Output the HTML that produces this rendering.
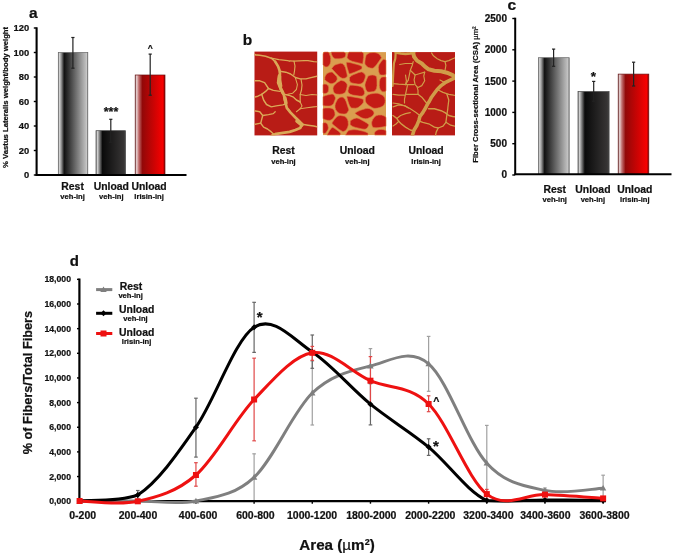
<!DOCTYPE html>
<html><head><meta charset="utf-8"><style>
html,body{margin:0;padding:0;background:#fff;width:675px;height:554px;overflow:hidden}
svg{display:block;will-change:transform}
text{font-family:"Liberation Sans", sans-serif;stroke:#111;stroke-width:0.22px}
</style></head><body>
<svg width="675" height="554" viewBox="0 0 675 554">
<rect width="675" height="554" fill="#fff"/>
<defs>
<filter id="hblur" x="-2%" y="-2%" width="104%" height="104%"><feGaussianBlur stdDeviation="0.45"/></filter>
<linearGradient id="gGray" x1="0" x2="1" y1="0" y2="0">
 <stop offset="0" stop-color="#8a8a8a"/><stop offset="0.04" stop-color="#cfcfcf"/><stop offset="0.09" stop-color="#a0a0a0"/>
 <stop offset="0.2" stop-color="#111"/><stop offset="0.93" stop-color="#bdbdbd"/><stop offset="0.96" stop-color="#c8c8c8"/><stop offset="1" stop-color="#7a7a7a"/>
</linearGradient>
<linearGradient id="gBlack" x1="0" x2="1" y1="0" y2="0">
 <stop offset="0" stop-color="#8a8a8a"/><stop offset="0.05" stop-color="#d0d0d0"/><stop offset="0.11" stop-color="#888"/>
 <stop offset="0.22" stop-color="#0a0a0a"/><stop offset="0.93" stop-color="#363434"/><stop offset="1" stop-color="#444"/>
</linearGradient>
<linearGradient id="gRed" x1="0" x2="1" y1="0" y2="0">
 <stop offset="0" stop-color="#8a8a8a"/><stop offset="0.05" stop-color="#ecd0d0"/><stop offset="0.12" stop-color="#c07070"/>
 <stop offset="0.24" stop-color="#920808"/><stop offset="0.93" stop-color="#f80000"/><stop offset="1" stop-color="#800000"/>
</linearGradient>
</defs>
<text x="29.00" y="17.80" font-size="15.5" text-anchor="start" font-weight="bold" fill="#111" >a</text>
<rect x="58.30" y="52.50" width="29.50" height="122.50" fill="url(#gGray)" stroke="#666" stroke-width="0.7"/>
<rect x="96.00" y="130.70" width="29.50" height="44.30" fill="url(#gBlack)" stroke="#444" stroke-width="0.7"/>
<rect x="135.20" y="75.00" width="29.80" height="100.00" fill="url(#gRed)" stroke="#6a1010" stroke-width="0.7"/>
<line x1="72.90" y1="37.50" x2="72.90" y2="68.20" stroke="#222" stroke-width="1.2" />
<line x1="71.30" y1="37.50" x2="74.50" y2="37.50" stroke="#222" stroke-width="1.2" />
<line x1="71.30" y1="68.20" x2="74.50" y2="68.20" stroke="#222" stroke-width="1.2" />
<line x1="110.80" y1="119.30" x2="110.80" y2="142.30" stroke="#222" stroke-width="1.2" />
<line x1="109.20" y1="119.30" x2="112.40" y2="119.30" stroke="#222" stroke-width="1.2" />
<line x1="109.20" y1="142.30" x2="112.40" y2="142.30" stroke="#222" stroke-width="1.2" />
<line x1="150.20" y1="54.10" x2="150.20" y2="95.20" stroke="#222" stroke-width="1.2" />
<line x1="148.60" y1="54.10" x2="151.80" y2="54.10" stroke="#222" stroke-width="1.2" />
<line x1="148.60" y1="95.20" x2="151.80" y2="95.20" stroke="#222" stroke-width="1.2" />
<line x1="36.60" y1="27.30" x2="36.60" y2="176.00" stroke="#000" stroke-width="2.1" />
<line x1="35.60" y1="175.10" x2="186.50" y2="175.10" stroke="#000" stroke-width="2" />
<line x1="33.80" y1="175.00" x2="36.60" y2="175.00" stroke="#000" stroke-width="1.4" />
<text x="29.20" y="178.30" font-size="9.4" text-anchor="end" font-weight="bold" fill="#111" >0</text>
<line x1="33.80" y1="150.50" x2="36.60" y2="150.50" stroke="#000" stroke-width="1.4" />
<text x="29.20" y="153.80" font-size="9.4" text-anchor="end" font-weight="bold" fill="#111" >20</text>
<line x1="33.80" y1="126.00" x2="36.60" y2="126.00" stroke="#000" stroke-width="1.4" />
<text x="29.20" y="129.30" font-size="9.4" text-anchor="end" font-weight="bold" fill="#111" >40</text>
<line x1="33.80" y1="101.50" x2="36.60" y2="101.50" stroke="#000" stroke-width="1.4" />
<text x="29.20" y="104.80" font-size="9.4" text-anchor="end" font-weight="bold" fill="#111" >60</text>
<line x1="33.80" y1="77.00" x2="36.60" y2="77.00" stroke="#000" stroke-width="1.4" />
<text x="29.20" y="80.30" font-size="9.4" text-anchor="end" font-weight="bold" fill="#111" >80</text>
<line x1="33.80" y1="52.50" x2="36.60" y2="52.50" stroke="#000" stroke-width="1.4" />
<text x="29.20" y="55.80" font-size="9.4" text-anchor="end" font-weight="bold" fill="#111" >100</text>
<line x1="33.80" y1="28.00" x2="36.60" y2="28.00" stroke="#000" stroke-width="1.4" />
<text x="29.20" y="31.30" font-size="9.4" text-anchor="end" font-weight="bold" fill="#111" >120</text>
<text x="111.05" y="116.40" font-size="12.5" text-anchor="middle" font-weight="bold" fill="#111" >***</text>
<text x="150.35" y="51.10" font-size="8.6" text-anchor="middle" font-weight="bold" fill="#111" >^</text>
<text x="8.30" y="97.40" font-size="7.5" text-anchor="middle" font-weight="bold" fill="#111" textLength="141.00" lengthAdjust="spacingAndGlyphs" transform="rotate(-90 8.30 97.40)" >% Vastus Lateralis weight/body weight</text>
<text x="72.60" y="190.10" font-size="10.4" text-anchor="middle" font-weight="bold" fill="#111" >Rest</text>
<text x="72.60" y="198.60" font-size="8.1" text-anchor="middle" font-weight="bold" fill="#111" textLength="24.49" lengthAdjust="spacingAndGlyphs" >veh-inj</text>
<text x="111.30" y="190.10" font-size="10.4" text-anchor="middle" font-weight="bold" fill="#111" >Unload</text>
<text x="111.30" y="198.60" font-size="8.1" text-anchor="middle" font-weight="bold" fill="#111" textLength="24.49" lengthAdjust="spacingAndGlyphs" >veh-inj</text>
<text x="149.10" y="190.10" font-size="10.4" text-anchor="middle" font-weight="bold" fill="#111" >Unload</text>
<text x="149.10" y="198.60" font-size="8.1" text-anchor="middle" font-weight="bold" fill="#111" textLength="29.56" lengthAdjust="spacingAndGlyphs" >Irisin-inj</text>
<text x="507.60" y="9.50" font-size="15.5" text-anchor="start" font-weight="bold" fill="#111" >c</text>
<rect x="538.40" y="57.70" width="30.80" height="116.80" fill="url(#gGray)" stroke="#666" stroke-width="0.7"/>
<rect x="578.00" y="91.60" width="31.10" height="82.90" fill="url(#gBlack)" stroke="#444" stroke-width="0.7"/>
<rect x="618.20" y="74.10" width="30.60" height="100.40" fill="url(#gRed)" stroke="#6a1010" stroke-width="0.7"/>
<line x1="553.60" y1="49.10" x2="553.60" y2="66.30" stroke="#222" stroke-width="1.2" />
<line x1="552.00" y1="49.10" x2="555.20" y2="49.10" stroke="#222" stroke-width="1.2" />
<line x1="552.00" y1="66.30" x2="555.20" y2="66.30" stroke="#222" stroke-width="1.2" />
<line x1="593.70" y1="81.40" x2="593.70" y2="101.20" stroke="#222" stroke-width="1.2" />
<line x1="592.10" y1="81.40" x2="595.30" y2="81.40" stroke="#222" stroke-width="1.2" />
<line x1="592.10" y1="101.20" x2="595.30" y2="101.20" stroke="#222" stroke-width="1.2" />
<line x1="633.60" y1="62.20" x2="633.60" y2="86.00" stroke="#222" stroke-width="1.2" />
<line x1="632.00" y1="62.20" x2="635.20" y2="62.20" stroke="#222" stroke-width="1.2" />
<line x1="632.00" y1="86.00" x2="635.20" y2="86.00" stroke="#222" stroke-width="1.2" />
<line x1="515.20" y1="17.70" x2="515.20" y2="175.00" stroke="#000" stroke-width="2" />
<line x1="514.50" y1="174.30" x2="671.50" y2="174.30" stroke="#000" stroke-width="2" />
<line x1="512.30" y1="175.00" x2="515.20" y2="175.00" stroke="#000" stroke-width="1.4" />
<text x="507.00" y="178.40" font-size="10" text-anchor="end" font-weight="bold" fill="#111" >0</text>
<line x1="512.30" y1="143.70" x2="515.20" y2="143.70" stroke="#000" stroke-width="1.4" />
<text x="507.00" y="147.10" font-size="10" text-anchor="end" font-weight="bold" fill="#111" >500</text>
<line x1="512.30" y1="112.40" x2="515.20" y2="112.40" stroke="#000" stroke-width="1.4" />
<text x="507.00" y="115.80" font-size="10" text-anchor="end" font-weight="bold" fill="#111" >1000</text>
<line x1="512.30" y1="81.10" x2="515.20" y2="81.10" stroke="#000" stroke-width="1.4" />
<text x="507.00" y="84.50" font-size="10" text-anchor="end" font-weight="bold" fill="#111" >1500</text>
<line x1="512.30" y1="49.80" x2="515.20" y2="49.80" stroke="#000" stroke-width="1.4" />
<text x="507.00" y="53.20" font-size="10" text-anchor="end" font-weight="bold" fill="#111" >2000</text>
<line x1="512.30" y1="18.50" x2="515.20" y2="18.50" stroke="#000" stroke-width="1.4" />
<text x="507.00" y="21.90" font-size="10" text-anchor="end" font-weight="bold" fill="#111" >2500</text>
<text x="593.50" y="81.20" font-size="13.5" text-anchor="middle" font-weight="bold" fill="#111" >*</text>
<text x="478.40" y="94.60" font-size="7.6" text-anchor="middle" font-weight="bold" fill="#111" textLength="136.40" lengthAdjust="spacingAndGlyphs" transform="rotate(-90 478.40 94.60)" >Fiber Cross-sectional Area (CSA) <tspan font-weight="normal">µm²</tspan></text>
<text x="554.70" y="192.60" font-size="10.4" text-anchor="middle" font-weight="bold" fill="#111" >Rest</text>
<text x="554.70" y="201.60" font-size="8.1" text-anchor="middle" font-weight="bold" fill="#111" textLength="24.49" lengthAdjust="spacingAndGlyphs" >veh-inj</text>
<text x="592.90" y="192.60" font-size="10.4" text-anchor="middle" font-weight="bold" fill="#111" >Unload</text>
<text x="592.90" y="201.60" font-size="8.1" text-anchor="middle" font-weight="bold" fill="#111" textLength="24.49" lengthAdjust="spacingAndGlyphs" >veh-inj</text>
<text x="634.80" y="192.60" font-size="10.4" text-anchor="middle" font-weight="bold" fill="#111" >Unload</text>
<text x="634.80" y="201.60" font-size="8.1" text-anchor="middle" font-weight="bold" fill="#111" textLength="29.56" lengthAdjust="spacingAndGlyphs" >Irisin-inj</text>
<text x="242.80" y="44.90" font-size="15.5" text-anchor="start" font-weight="bold" fill="#111" >b</text>
<text x="283.50" y="154.30" font-size="10.4" text-anchor="middle" font-weight="bold" fill="#111" >Rest</text>
<text x="283.50" y="163.60" font-size="8.1" text-anchor="middle" font-weight="bold" fill="#111" textLength="24.49" lengthAdjust="spacingAndGlyphs" >veh-inj</text>
<text x="357.30" y="154.30" font-size="10.4" text-anchor="middle" font-weight="bold" fill="#111" >Unload</text>
<text x="357.30" y="163.60" font-size="8.1" text-anchor="middle" font-weight="bold" fill="#111" textLength="24.49" lengthAdjust="spacingAndGlyphs" >veh-inj</text>
<text x="426.10" y="154.30" font-size="10.4" text-anchor="middle" font-weight="bold" fill="#111" >Unload</text>
<text x="426.10" y="163.60" font-size="8.1" text-anchor="middle" font-weight="bold" fill="#111" textLength="29.56" lengthAdjust="spacingAndGlyphs" >Irisin-inj</text>
<g filter="url(#hblur)">
<rect x="254.5" y="51.6" width="62.7" height="83.8" fill="#b81a12"/>
<clipPath id="c1"><rect x="254.5" y="51.6" width="62.7" height="83.8"/></clipPath>
<g clip-path="url(#c1)" fill="none" stroke="#daa858" stroke-linecap="round" stroke-linejoin="round">
<polyline points="254.0,54.5 255.9,54.9 259.8,55.3 265.6,56.3 271.3,58.2 275.2,61.6" stroke-width="1.6"/>
<polyline points="275.2,61.6 278.1,66.4 279.5,70.3 280.0,74.1 278.6,78.9 278.1,82.7 280.0,87.5 282.0,91.4 283.9,95.2 284.8,100.0 285.8,103.9 286.8,107.8 290.6,112.6 295.4,117.5 299.3,121.3 302.2,124.2 300.2,128.0 295.4,130.0 289.6,131.9 282.9,132.9 276.2,133.8 271.3,136.0" stroke-width="2.7"/>
<polyline points="279.5,76.0 279.5,80.0 280.5,86.0" stroke-width="3.8"/>
<polyline points="280.5,88.0 283.0,93.0" stroke-width="3.2"/>
<polyline points="285.0,98.0 286.0,103.0" stroke-width="3.4"/>
<polyline points="297.0,121.0 302.0,125.0" stroke-width="3.6"/>
<polyline points="271.3,58.2 279.0,59.7 287.7,60.6 289.6,61.1" stroke-width="1.32"/>
<polyline points="280.0,71.2 285.8,72.2 290.6,74.0 295.4,77.5 300.2,78.9 306.0,78.9 309.9,77.9 318.0,76.0" stroke-width="1.44"/>
<polyline points="304.0,60.6 308.0,60.6 313.7,61.6 318.0,62.0" stroke-width="1.2"/>
<polyline points="254.0,80.8 259.8,80.8 264.6,82.7 268.5,88.5 273.3,90.4 280.0,91.4" stroke-width="1.44"/>
<polyline points="268.5,88.5 265.6,91.4 261.7,94.3 257.9,96.2 254.0,97.2" stroke-width="1.44"/>
<polyline points="261.7,94.3 263.6,100.0 266.5,104.5 271.3,106.9 276.2,105.9 282.9,104.9 285.3,104.0" stroke-width="1.44"/>
<polyline points="283.9,94.3 288.7,95.2 293.5,97.2 296.4,100.0 300.2,102.0" stroke-width="1.44"/>
<polyline points="295.4,77.9 297.4,84.6 296.4,89.5 292.5,93.3 287.7,94.3" stroke-width="1.08"/>
<polyline points="302.2,124.2 308.0,125.2 313.7,126.1 318.0,127.1" stroke-width="1.56"/>
<polyline points="296.4,111.7 300.2,108.8 307.0,107.8 313.7,106.9 318.0,106.5" stroke-width="1.08"/>
<polyline points="254.0,110.7 259.8,111.7 262.7,115.5 261.7,119.4 260.7,123.2 263.6,127.1 267.5,129.0 271.3,131.9 274.2,134.8" stroke-width="1.44"/>
<polyline points="262.7,115.5 268.5,114.6 273.3,113.6 275.2,111.7" stroke-width="1.32"/>
<polyline points="254.0,124.5 260.7,123.2" stroke-width="1.32"/>
<polyline points="300.2,102.0 302.0,106.0 300.0,109.0" stroke-width="1.08"/>
<polyline points="290.0,60.8 294.0,61.2 304.0,60.6" stroke-width="1.3"/>
<polyline points="294.0,61.2 295.0,66.0 294.5,71.0 293.8,75.0" stroke-width="1.2"/>
<polyline points="301.0,79.0 302.0,85.0 301.5,90.0 300.2,94.5 300.2,102.0" stroke-width="1.2"/>
<polyline points="300.2,94.5 306.0,95.5 312.0,94.5 318.0,95.0" stroke-width="1.2"/>
</g>
<rect x="323.0" y="52.1" width="63.0" height="83.0" fill="#da9e4f"/>
<polygon points="328.2,52.1 324.2,52.1 323.0,53.8 323.0,64.6 324.3,66.2 325.2,66.8 326.1,67.0 327.6,66.7 328.9,65.8 330.1,63.8 330.6,61.6 330.7,58.2 330.3,56.2 329.2,53.3" fill="#c41e16" stroke="#dd7a44" stroke-width="0.6"/>
<polygon points="335.4,58.7 339.0,58.8 341.2,58.5 342.9,58.1 344.4,57.4 344.8,57.1 345.4,56.2 345.7,54.9 345.7,53.4 345.0,52.7 344.0,52.1 331.2,52.1 331.3,53.1 331.6,54.4 332.3,56.1 333.2,57.4 334.2,58.2" fill="#c41e16" stroke="#dd7a44" stroke-width="0.6"/>
<polygon points="352.6,61.4 362.7,63.9 363.6,57.4 363.6,53.9 363.3,53.0 361.8,52.1 349.2,52.1 348.8,52.3 348.3,53.0 347.8,54.0 347.1,57.2 347.9,58.8 349.7,60.2" fill="#c41e16" stroke="#dd7a44" stroke-width="0.6"/>
<polygon points="365.3,64.6 366.9,66.4 368.5,67.5 370.6,68.1 372.4,68.3 373.6,67.7 375.0,66.5 376.7,64.5 381.5,57.7 380.1,55.2 378.4,53.7 377.4,53.2 375.7,52.7 374.0,52.5 370.7,52.7 369.1,53.1 366.9,54.4 366.4,54.9 366.0,55.7 365.3,58.5 364.9,62.0 364.9,63.3" fill="#c41e16" stroke="#dd7a44" stroke-width="0.6"/>
<polygon points="378.4,67.4 378.7,71.8 379.7,74.5 381.2,75.0 382.4,75.1 384.0,75.1 386.0,74.5 386.0,60.5 385.4,59.8 383.7,59.2 383.0,59.5 381.3,61.4 379.2,64.5 378.7,65.9" fill="#c41e16" stroke="#dd7a44" stroke-width="0.6"/>
<polygon points="331.7,68.5 337.2,74.6 339.2,76.4 340.8,77.6 342.2,78.3 344.2,78.3 345.7,77.8 347.2,76.4 347.2,75.1 346.8,73.3 345.4,67.5 344.1,65.2 342.6,63.8 340.6,63.3 336.4,64.4 334.9,65.1 333.7,65.9" fill="#c41e16" stroke="#dd7a44" stroke-width="0.6"/>
<polygon points="349.7,73.9 354.6,72.2 359.7,70.0 361.2,69.2 361.9,68.6 362.0,66.4 359.2,65.1 356.4,64.3 349.9,62.6 346.8,62.2 346.5,62.4 346.4,63.3 347.0,66.9 348.4,71.6 348.9,73.1 349.4,73.8" fill="#c41e16" stroke="#dd7a44" stroke-width="0.6"/>
<polygon points="363.6,81.7 365.1,78.0 365.3,76.6 365.3,75.6 364.7,74.3 363.9,73.3 363.0,72.6 361.6,71.9 358.9,72.5 353.8,74.5 351.7,75.6 350.3,76.7 349.5,77.6 349.5,80.2 350.4,82.2 351.3,82.7 352.9,83.2 358.0,84.1 360.4,83.9 362.3,83.1" fill="#c41e16" stroke="#dd7a44" stroke-width="0.6"/>
<polygon points="336.2,81.2 337.1,79.6 337.2,78.0 336.4,76.3 332.2,72.0 329.7,72.3 327.7,73.2 326.5,74.2 325.3,76.0 324.9,77.2 324.8,79.6 326.1,81.0 329.2,83.1 330.9,83.7 332.6,83.5 334.4,82.7" fill="#c41e16" stroke="#dd7a44" stroke-width="0.6"/>
<polygon points="365.0,85.9 365.9,89.6 366.9,91.1 367.7,91.9 369.9,92.1 373.8,91.5 375.4,90.4 376.5,88.4 377.0,85.7 376.9,79.4 376.5,76.4 374.3,75.3 372.4,75.0 370.5,75.2 368.1,76.1 366.7,79.3 365.3,83.0 365.0,84.6" fill="#c41e16" stroke="#dd7a44" stroke-width="0.6"/>
<polygon points="336.7,94.1 339.5,94.3 342.3,93.9 344.2,93.1 344.9,92.7 345.4,91.9 346.4,89.5 347.1,86.4 347.2,84.7 346.3,83.1 344.6,81.6 343.5,81.0 341.4,80.4 340.3,80.7 337.4,82.5 335.5,84.1 334.2,85.6 333.3,87.1 333.0,88.6 333.4,91.1 334.1,92.7 335.6,93.8" fill="#c41e16" stroke="#dd7a44" stroke-width="0.6"/>
<polygon points="352.8,95.1 359.5,96.0 361.6,96.1 362.9,95.8 364.1,94.3 364.6,93.2 364.4,91.4 363.4,88.8 362.2,87.6 360.5,86.6 358.1,85.9 353.0,85.2 350.2,85.2 349.8,85.4 348.9,87.3 347.9,91.0 348.5,92.8 350.1,94.1" fill="#c41e16" stroke="#dd7a44" stroke-width="0.6"/>
<polygon points="328.4,86.6 327.7,85.3 326.4,84.3 324.8,84.1 323.0,84.5 323.0,93.0 324.0,93.4 325.4,93.4 326.7,93.1 327.5,92.4 328.3,91.2 328.6,89.9 328.7,87.7" fill="#c41e16" stroke="#dd7a44" stroke-width="0.6"/>
<polygon points="380.9,77.9 379.9,79.6 379.4,81.8 379.3,85.3 379.6,87.7 380.2,89.3 381.6,91.2 382.7,91.8 384.3,91.8 385.2,91.4 386.0,90.8 386.0,77.4 385.6,76.9 383.1,76.9 381.7,77.2" fill="#c41e16" stroke="#dd7a44" stroke-width="0.6"/>
<polygon points="325.5,95.6 323.0,96.6 323.0,105.5 325.0,105.9 329.1,106.1 330.9,105.7 332.5,104.8 333.6,103.4 335.3,99.1 335.4,98.3 335.3,97.5 334.5,95.7 333.1,94.3 332.0,94.1 328.2,94.8" fill="#c41e16" stroke="#dd7a44" stroke-width="0.6"/>
<polygon points="340.8,113.8 344.1,114.1 346.1,113.7 347.5,112.3 348.9,110.1 346.2,101.7 345.0,99.3 343.7,97.8 342.2,97.1 340.5,97.3 339.0,98.0 337.7,99.3 336.6,101.1 335.5,103.5 335.0,105.6 335.1,107.6 335.6,109.4 336.6,111.0 337.8,112.3 339.2,113.2" fill="#c41e16" stroke="#dd7a44" stroke-width="0.6"/>
<polygon points="351.6,108.1 355.5,108.2 357.6,107.7 358.7,107.1 361.3,105.0 363.0,103.0 363.4,102.1 363.4,100.1 363.1,99.2 360.0,98.2 350.5,96.6 347.5,96.2 346.8,96.7 347.9,101.0 348.8,103.8 349.7,105.9 350.7,107.3" fill="#c41e16" stroke="#dd7a44" stroke-width="0.6"/>
<polygon points="365.4,101.1 365.9,102.3 366.8,103.6 368.1,104.9 369.9,106.2 372.9,107.9 374.1,108.3 375.3,108.3 377.5,108.1 379.7,107.5 381.5,106.8 382.7,106.1 384.0,104.9 384.6,103.6 385.0,102.4 385.2,100.4 384.8,98.5 384.3,97.3 383.5,96.2 382.3,95.2 380.8,94.4 379.0,93.7 377.3,93.3 375.4,93.2 373.0,93.5 370.3,94.0 368.3,94.8 367.6,95.3 366.5,96.3 365.8,97.3 365.4,98.8" fill="#c41e16" stroke="#dd7a44" stroke-width="0.6"/>
<polygon points="333.4,117.9 334.8,115.5 335.0,114.4 334.8,112.4 334.1,110.4 333.4,109.4 332.4,108.7 331.0,108.2 329.1,107.9 325.0,108.0 323.0,108.6 323.0,118.7 325.3,119.7 327.4,120.3 329.3,120.4 330.9,120.0 332.2,119.2" fill="#c41e16" stroke="#dd7a44" stroke-width="0.6"/>
<polygon points="371.1,109.4 369.5,108.7 367.7,108.4 365.8,108.6 360.6,110.2 358.3,111.2 355.1,112.9 355.3,113.6 356.3,114.6 360.7,117.3 363.1,118.3 365.4,118.7 367.5,118.5 371.0,117.0 372.3,116.1 373.2,115.1 373.9,113.9 374.0,112.8 373.6,111.7 372.6,110.6" fill="#c41e16" stroke="#dd7a44" stroke-width="0.6"/>
<polygon points="338.8,129.2 342.5,131.4 343.5,131.6 345.7,130.4 347.4,127.9 348.1,125.8 348.3,124.6 348.1,121.2 347.5,119.5 346.7,118.1 344.6,116.2 340.3,115.5 338.8,115.8 337.2,116.6 335.7,117.9 334.2,119.7 332.4,122.3 332.1,123.2 332.3,123.7 333.0,124.6" fill="#c41e16" stroke="#dd7a44" stroke-width="0.6"/>
<polygon points="355.5,127.4 362.0,128.9 364.1,129.2 365.5,129.1 366.8,128.3 367.7,127.2 368.6,125.5 368.6,124.6 366.6,122.9 364.6,121.7 359.7,119.0 357.9,118.3 356.6,118.1 354.8,118.4 353.1,119.1 350.7,120.6 350.3,121.4 350.1,124.3 351.0,125.4 352.8,126.5" fill="#c41e16" stroke="#dd7a44" stroke-width="0.6"/>
<polygon points="371.7,124.0 372.1,125.7 372.8,127.2 374.0,127.6 376.0,127.8 378.7,127.6 382.1,127.1 386.0,126.3 386.0,117.3 384.2,115.9 381.6,115.1 378.6,115.1 376.0,115.8 374.3,117.2 372.7,119.6 371.7,122.1" fill="#c41e16" stroke="#dd7a44" stroke-width="0.6"/>
<polygon points="332.1,127.4 331.5,128.0 329.4,130.8 327.1,135.1 340.0,135.1 340.6,133.9 340.3,133.1 339.4,132.1 338.1,130.9 334.7,128.5 333.5,127.8 332.6,127.4" fill="#c41e16" stroke="#dd7a44" stroke-width="0.6"/>
<polygon points="363.5,131.3 357.9,130.0 354.0,129.6 349.0,130.3 348.4,130.7 347.1,132.2 345.5,135.1 367.9,135.1 368.1,133.6 367.3,132.8 365.8,132.1" fill="#c41e16" stroke="#dd7a44" stroke-width="0.6"/>
<polygon points="386.0,130.6 383.6,129.7 381.6,129.4 379.2,129.6 377.6,130.0 375.6,131.2 374.9,132.1 374.5,133.6 374.8,135.1 386.0,135.1" fill="#c41e16" stroke="#dd7a44" stroke-width="0.6"/>
<polygon points="328.3,127.3 327.8,124.9 327.3,124.0 326.6,123.3 325.8,122.8 324.8,122.7 323.8,122.8 323.0,123.1 323.0,132.9 324.2,133.4 325.2,133.3 326.2,132.5 327.9,129.7 328.2,128.8" fill="#c41e16" stroke="#dd7a44" stroke-width="0.6"/>
<rect x="392.0" y="52.1" width="63.0" height="83.3" fill="#b81a12"/>
<clipPath id="c3"><rect x="392.0" y="52.1" width="63.0" height="83.3"/></clipPath>
<g clip-path="url(#c3)" fill="none" stroke="#d09c4a" stroke-linecap="round" stroke-linejoin="round">
<polyline points="395.8,52.4 400.6,53.4 405.5,53.9 410.3,53.4 414.1,52.4" stroke-width="2.8"/>
<polyline points="395.8,51.0 395.3,58.7 393.9,63.5 393.4,70.3 392.9,80.0 392.6,86.0" stroke-width="2.2"/>
<polyline points="412.5,51.0 413.0,52.4 414.1,56.8 417.0,60.6 421.8,63.5 424.7,66.4 428.6,69.3 434.4,70.7 441.1,71.2 446.9,72.7 452.7,75.1 456.0,78.0" stroke-width="4.0"/>
<polyline points="456.0,77.5 454.6,77.9 450.7,79.8 445.0,82.7 441.1,85.6 437.2,89.5 434.4,93.3 431.5,97.2 429.5,101.0 427.6,103.9 425.7,107.8 422.8,112.6 419.9,116.5 418.9,120.3 417.0,125.2 414.1,130.0 412.2,136.0 411.5,138.0" stroke-width="3.6"/>
<polyline points="413.2,61.6 412.2,65.5 410.3,70.3 409.3,75.1 408.3,80.0" stroke-width="1.2"/>
<polyline points="399.7,64.5 405.5,63.5 412.2,63.5" stroke-width="1.2"/>
<polyline points="431.5,52.9 433.4,55.8 437.2,58.7 441.1,60.6 445.0,61.6 448.8,60.6 452.7,58.7 456.0,57.5" stroke-width="1.2"/>
<polyline points="445.0,61.6 445.9,65.5 445.0,70.3" stroke-width="1.2"/>
<polyline points="424.7,72.2 423.8,76.0 424.7,80.8 421.8,85.6 418.0,87.5" stroke-width="1.2"/>
<polyline points="405.5,75.0 406.4,80.8 405.5,84.6" stroke-width="1.2"/>
<polyline points="408.3,80.0 405.5,84.6" stroke-width="1.2"/>
<polyline points="415.1,75.0 414.1,79.8 415.1,84.6 417.0,86.6" stroke-width="1.2"/>
<polyline points="410.3,70.3 415.1,75.0 420.0,73.5 424.7,72.2" stroke-width="1.2"/>
<polyline points="393.0,83.7 398.7,84.2 406.4,84.6 414.1,84.6" stroke-width="1.2"/>
<polyline points="407.4,85.6 406.4,90.4 405.5,94.3 404.5,99.1 404.5,103.0" stroke-width="1.2"/>
<polyline points="406.4,94.3 412.2,94.3 418.0,94.3 421.8,97.2 425.7,102.0 427.6,103.9" stroke-width="1.32"/>
<polyline points="417.0,86.6 418.0,90.4 418.0,94.3" stroke-width="1.2"/>
<polyline points="393.0,94.3 398.7,95.2 404.5,95.2" stroke-width="1.2"/>
<polyline points="393.0,103.0 398.7,103.9 404.5,105.8 408.3,108.0" stroke-width="1.2"/>
<polyline points="437.2,89.5 443.0,92.3 448.8,94.3 453.6,95.2 456.0,95.5" stroke-width="1.32"/>
<polyline points="446.9,94.3 448.8,100.0 447.8,108.0 447.8,108.8 446.9,114.6 445.9,122.3 443.0,126.1 438.2,128.0 434.4,127.1 429.5,124.2 422.8,122.3 418.9,121.0" stroke-width="1.32"/>
<polyline points="393.0,106.9 398.7,104.9 405.5,105.9 410.3,108.8 416.0,112.6 419.9,115.5" stroke-width="1.2"/>
<polyline points="393.0,115.5 396.8,118.4 398.7,121.3 401.6,124.2 405.5,127.1 410.3,130.0 414.1,131.0" stroke-width="1.44"/>
<polyline points="396.8,118.4 400.6,115.5 405.5,113.6 410.3,112.6" stroke-width="1.2"/>
<polyline points="428.6,108.8 434.4,108.8 441.1,110.7 445.0,112.6 448.8,115.5 452.7,116.5 456.0,117.0" stroke-width="1.44"/>
<polyline points="445.9,122.3 450.7,125.2 454.6,126.1 456.0,126.3" stroke-width="1.32"/>
<polyline points="438.2,128.0 436.3,131.9 435.3,136.0" stroke-width="1.32"/>
<polyline points="393.0,126.0 396.0,124.0 398.7,121.3" stroke-width="1.2"/>
<polyline points="440.0,80.0 445.0,82.7" stroke-width="1.2"/>
</g>
</g>
<text x="69.80" y="265.70" font-size="15" text-anchor="start" font-weight="bold" fill="#111" >d</text>
<text x="82.70" y="518.80" font-size="10.5" text-anchor="middle" font-weight="bold" fill="#111" >0-200</text>
<text x="138.00" y="518.80" font-size="10.5" text-anchor="middle" font-weight="bold" fill="#111" >200-400</text>
<text x="198.10" y="518.80" font-size="10.5" text-anchor="middle" font-weight="bold" fill="#111" >400-600</text>
<text x="255.40" y="518.80" font-size="10.5" text-anchor="middle" font-weight="bold" fill="#111" >600-800</text>
<text x="312.10" y="518.80" font-size="10.5" text-anchor="middle" font-weight="bold" fill="#111" >1000-1200</text>
<text x="371.30" y="518.80" font-size="10.5" text-anchor="middle" font-weight="bold" fill="#111" >1800-2000</text>
<text x="430.30" y="518.80" font-size="10.5" text-anchor="middle" font-weight="bold" fill="#111" >2000-2200</text>
<text x="488.40" y="518.80" font-size="10.5" text-anchor="middle" font-weight="bold" fill="#111" >3200-3400</text>
<text x="545.40" y="518.80" font-size="10.5" text-anchor="middle" font-weight="bold" fill="#111" >3400-3600</text>
<text x="604.50" y="518.80" font-size="10.5" text-anchor="middle" font-weight="bold" fill="#111" >3600-3800</text>
<text x="337.00" y="550.40" font-size="15.2" text-anchor="middle" font-weight="bold" fill="#111" >Area (<tspan font-weight="normal">µ</tspan>m<tspan font-size="9" dy="-5">2</tspan><tspan dy="5">)</tspan></text>
<text x="32.10" y="382.60" font-size="13.6" text-anchor="middle" font-weight="bold" fill="#111" textLength="143.40" lengthAdjust="spacingAndGlyphs" transform="rotate(-90 32.10 382.60)" >% of Fibers/Total Fibers</text>
<line x1="77.00" y1="501.20" x2="79.40" y2="501.20" stroke="#000" stroke-width="1.4" />
<text x="71.00" y="504.30" font-size="8.7" text-anchor="end" font-weight="bold" fill="#111" >0,000</text>
<line x1="77.00" y1="476.55" x2="79.40" y2="476.55" stroke="#000" stroke-width="1.4" />
<text x="71.00" y="479.65" font-size="8.7" text-anchor="end" font-weight="bold" fill="#111" >2,000</text>
<line x1="77.00" y1="451.90" x2="79.40" y2="451.90" stroke="#000" stroke-width="1.4" />
<text x="71.00" y="455.00" font-size="8.7" text-anchor="end" font-weight="bold" fill="#111" >4,000</text>
<line x1="77.00" y1="427.25" x2="79.40" y2="427.25" stroke="#000" stroke-width="1.4" />
<text x="71.00" y="430.35" font-size="8.7" text-anchor="end" font-weight="bold" fill="#111" >6,000</text>
<line x1="77.00" y1="402.60" x2="79.40" y2="402.60" stroke="#000" stroke-width="1.4" />
<text x="71.00" y="405.70" font-size="8.7" text-anchor="end" font-weight="bold" fill="#111" >8,000</text>
<line x1="77.00" y1="377.95" x2="79.40" y2="377.95" stroke="#000" stroke-width="1.4" />
<text x="71.00" y="381.05" font-size="8.7" text-anchor="end" font-weight="bold" fill="#111" >10,000</text>
<line x1="77.00" y1="353.30" x2="79.40" y2="353.30" stroke="#000" stroke-width="1.4" />
<text x="71.00" y="356.40" font-size="8.7" text-anchor="end" font-weight="bold" fill="#111" >12,000</text>
<line x1="77.00" y1="328.65" x2="79.40" y2="328.65" stroke="#000" stroke-width="1.4" />
<text x="71.00" y="331.75" font-size="8.7" text-anchor="end" font-weight="bold" fill="#111" >14,000</text>
<line x1="77.00" y1="304.00" x2="79.40" y2="304.00" stroke="#000" stroke-width="1.4" />
<text x="71.00" y="307.10" font-size="8.7" text-anchor="end" font-weight="bold" fill="#111" >16,000</text>
<line x1="77.00" y1="279.35" x2="79.40" y2="279.35" stroke="#000" stroke-width="1.4" />
<text x="71.00" y="282.45" font-size="8.7" text-anchor="end" font-weight="bold" fill="#111" >18,000</text>
<line x1="254.11" y1="453.80" x2="254.11" y2="501.00" stroke="#a0a0a0" stroke-width="1.2" />
<line x1="252.31" y1="453.80" x2="255.91" y2="453.80" stroke="#a0a0a0" stroke-width="1.2" />
<line x1="252.31" y1="501.00" x2="255.91" y2="501.00" stroke="#a0a0a0" stroke-width="1.2" />
<line x1="312.28" y1="361.00" x2="312.28" y2="425.00" stroke="#a0a0a0" stroke-width="1.2" />
<line x1="310.48" y1="361.00" x2="314.08" y2="361.00" stroke="#a0a0a0" stroke-width="1.2" />
<line x1="310.48" y1="425.00" x2="314.08" y2="425.00" stroke="#a0a0a0" stroke-width="1.2" />
<line x1="370.45" y1="348.60" x2="370.45" y2="383.80" stroke="#a0a0a0" stroke-width="1.2" />
<line x1="368.65" y1="348.60" x2="372.25" y2="348.60" stroke="#a0a0a0" stroke-width="1.2" />
<line x1="368.65" y1="383.80" x2="372.25" y2="383.80" stroke="#a0a0a0" stroke-width="1.2" />
<line x1="428.62" y1="336.40" x2="428.62" y2="391.30" stroke="#a0a0a0" stroke-width="1.2" />
<line x1="426.82" y1="336.40" x2="430.42" y2="336.40" stroke="#a0a0a0" stroke-width="1.2" />
<line x1="426.82" y1="391.30" x2="430.42" y2="391.30" stroke="#a0a0a0" stroke-width="1.2" />
<line x1="486.79" y1="425.40" x2="486.79" y2="501.00" stroke="#a0a0a0" stroke-width="1.2" />
<line x1="484.99" y1="425.40" x2="488.59" y2="425.40" stroke="#a0a0a0" stroke-width="1.2" />
<line x1="484.99" y1="501.00" x2="488.59" y2="501.00" stroke="#a0a0a0" stroke-width="1.2" />
<line x1="544.96" y1="488.00" x2="544.96" y2="492.50" stroke="#a0a0a0" stroke-width="1.2" />
<line x1="543.16" y1="488.00" x2="546.76" y2="488.00" stroke="#a0a0a0" stroke-width="1.2" />
<line x1="543.16" y1="492.50" x2="546.76" y2="492.50" stroke="#a0a0a0" stroke-width="1.2" />
<line x1="603.13" y1="475.20" x2="603.13" y2="501.00" stroke="#a0a0a0" stroke-width="1.2" />
<line x1="601.33" y1="475.20" x2="604.93" y2="475.20" stroke="#a0a0a0" stroke-width="1.2" />
<line x1="601.33" y1="501.00" x2="604.93" y2="501.00" stroke="#a0a0a0" stroke-width="1.2" />
<line x1="137.77" y1="490.50" x2="137.77" y2="499.30" stroke="#666" stroke-width="1.2" />
<line x1="135.97" y1="490.50" x2="139.57" y2="490.50" stroke="#666" stroke-width="1.2" />
<line x1="135.97" y1="499.30" x2="139.57" y2="499.30" stroke="#666" stroke-width="1.2" />
<line x1="195.94" y1="398.20" x2="195.94" y2="457.10" stroke="#666" stroke-width="1.2" />
<line x1="194.14" y1="398.20" x2="197.74" y2="398.20" stroke="#666" stroke-width="1.2" />
<line x1="194.14" y1="457.10" x2="197.74" y2="457.10" stroke="#666" stroke-width="1.2" />
<line x1="254.11" y1="302.30" x2="254.11" y2="352.40" stroke="#666" stroke-width="1.2" />
<line x1="252.31" y1="302.30" x2="255.91" y2="302.30" stroke="#666" stroke-width="1.2" />
<line x1="252.31" y1="352.40" x2="255.91" y2="352.40" stroke="#666" stroke-width="1.2" />
<line x1="312.28" y1="335.00" x2="312.28" y2="368.30" stroke="#666" stroke-width="1.2" />
<line x1="310.48" y1="335.00" x2="314.08" y2="335.00" stroke="#666" stroke-width="1.2" />
<line x1="310.48" y1="368.30" x2="314.08" y2="368.30" stroke="#666" stroke-width="1.2" />
<line x1="370.45" y1="383.50" x2="370.45" y2="424.90" stroke="#666" stroke-width="1.2" />
<line x1="368.65" y1="383.50" x2="372.25" y2="383.50" stroke="#666" stroke-width="1.2" />
<line x1="368.65" y1="424.90" x2="372.25" y2="424.90" stroke="#666" stroke-width="1.2" />
<line x1="428.62" y1="438.80" x2="428.62" y2="455.40" stroke="#666" stroke-width="1.2" />
<line x1="426.82" y1="438.80" x2="430.42" y2="438.80" stroke="#666" stroke-width="1.2" />
<line x1="426.82" y1="455.40" x2="430.42" y2="455.40" stroke="#666" stroke-width="1.2" />
<line x1="195.94" y1="462.70" x2="195.94" y2="486.20" stroke="#e04848" stroke-width="1.2" />
<line x1="194.14" y1="462.70" x2="197.74" y2="462.70" stroke="#e04848" stroke-width="1.2" />
<line x1="194.14" y1="486.20" x2="197.74" y2="486.20" stroke="#e04848" stroke-width="1.2" />
<line x1="254.11" y1="358.20" x2="254.11" y2="440.80" stroke="#e04848" stroke-width="1.2" />
<line x1="252.31" y1="358.20" x2="255.91" y2="358.20" stroke="#e04848" stroke-width="1.2" />
<line x1="252.31" y1="440.80" x2="255.91" y2="440.80" stroke="#e04848" stroke-width="1.2" />
<line x1="312.28" y1="346.40" x2="312.28" y2="360.30" stroke="#e04848" stroke-width="1.2" />
<line x1="310.48" y1="346.40" x2="314.08" y2="346.40" stroke="#e04848" stroke-width="1.2" />
<line x1="310.48" y1="360.30" x2="314.08" y2="360.30" stroke="#e04848" stroke-width="1.2" />
<line x1="370.45" y1="356.60" x2="370.45" y2="404.80" stroke="#e04848" stroke-width="1.2" />
<line x1="368.65" y1="356.60" x2="372.25" y2="356.60" stroke="#e04848" stroke-width="1.2" />
<line x1="368.65" y1="404.80" x2="372.25" y2="404.80" stroke="#e04848" stroke-width="1.2" />
<line x1="428.62" y1="395.80" x2="428.62" y2="411.70" stroke="#e04848" stroke-width="1.2" />
<line x1="426.82" y1="395.80" x2="430.42" y2="395.80" stroke="#e04848" stroke-width="1.2" />
<line x1="426.82" y1="411.70" x2="430.42" y2="411.70" stroke="#e04848" stroke-width="1.2" />
<line x1="486.79" y1="489.40" x2="486.79" y2="499.00" stroke="#e04848" stroke-width="1.2" />
<line x1="484.99" y1="489.40" x2="488.59" y2="489.40" stroke="#e04848" stroke-width="1.2" />
<line x1="484.99" y1="499.00" x2="488.59" y2="499.00" stroke="#e04848" stroke-width="1.2" />
<line x1="79.40" y1="278.50" x2="79.40" y2="502.00" stroke="#000" stroke-width="2.2" />
<line x1="79.00" y1="501.20" x2="606.00" y2="501.20" stroke="#000" stroke-width="2.2" />
<line x1="137.77" y1="501.20" x2="137.77" y2="503.70" stroke="#000" stroke-width="1.4" />
<line x1="195.94" y1="501.20" x2="195.94" y2="503.70" stroke="#000" stroke-width="1.4" />
<line x1="254.11" y1="501.20" x2="254.11" y2="503.70" stroke="#000" stroke-width="1.4" />
<line x1="312.28" y1="501.20" x2="312.28" y2="503.70" stroke="#000" stroke-width="1.4" />
<line x1="370.45" y1="501.20" x2="370.45" y2="503.70" stroke="#000" stroke-width="1.4" />
<line x1="428.62" y1="501.20" x2="428.62" y2="503.70" stroke="#000" stroke-width="1.4" />
<line x1="486.79" y1="501.20" x2="486.79" y2="503.70" stroke="#000" stroke-width="1.4" />
<line x1="544.96" y1="501.20" x2="544.96" y2="503.70" stroke="#000" stroke-width="1.4" />
<line x1="603.13" y1="501.20" x2="603.13" y2="503.70" stroke="#000" stroke-width="1.4" />
<path d="M79.60,501.00 C89.29,501.00 118.38,501.00 137.77,501.00 C157.16,501.00 176.55,504.95 195.94,501.00 C215.33,497.05 234.72,495.30 254.11,477.30 C273.50,459.30 292.89,411.55 312.28,393.00 C331.67,374.45 351.06,370.87 370.45,366.00 C389.84,361.13 409.23,347.60 428.62,363.80 C448.01,380.00 467.40,442.10 486.79,463.20 C506.18,484.30 525.57,486.23 544.96,490.40 C564.35,494.57 593.43,488.57 603.13,488.20" fill="none" stroke="#7f7f7f" stroke-width="3"/>
<path d="M79.60,501.00 C89.29,500.00 118.38,502.00 137.77,495.00 C157.16,482.70 176.55,455.15 195.94,427.20 C215.33,399.25 234.72,339.83 254.11,327.30 C273.50,314.77 292.89,339.18 312.28,352.00 C331.67,364.82 351.06,388.35 370.45,404.20 C389.84,420.05 409.23,431.05 428.62,447.10 C448.01,463.15 467.40,491.68 486.79,500.50 C506.18,502.00 525.57,500.00 544.96,500.00 C564.35,500.00 593.43,500.42 603.13,500.50" fill="none" stroke="#000" stroke-width="3"/>
<path d="M79.60,501.00 C89.29,501.05 118.38,505.63 137.77,501.30 C157.16,496.97 176.55,491.97 195.94,475.00 C215.33,458.03 234.72,419.87 254.11,399.50 C273.50,379.13 292.89,355.93 312.28,352.80 C331.67,349.67 351.06,372.17 370.45,380.70 C389.84,389.23 409.23,385.10 428.62,404.00 C448.01,422.90 467.40,479.00 486.79,494.10 C506.18,509.20 525.57,493.88 544.96,494.60 C564.35,495.32 593.43,497.77 603.13,498.40" fill="none" stroke="#ee1111" stroke-width="3"/>
<path d="M79.60,497.80 L82.80,503.40 L76.40,503.40Z" fill="#7f7f7f"/>
<path d="M137.77,497.80 L140.97,503.40 L134.57,503.40Z" fill="#7f7f7f"/>
<path d="M195.94,497.80 L199.14,503.40 L192.74,503.40Z" fill="#7f7f7f"/>
<path d="M254.11,474.10 L257.31,479.70 L250.91,479.70Z" fill="#7f7f7f"/>
<path d="M312.28,389.80 L315.48,395.40 L309.08,395.40Z" fill="#7f7f7f"/>
<path d="M370.45,362.80 L373.65,368.40 L367.25,368.40Z" fill="#7f7f7f"/>
<path d="M428.62,360.60 L431.82,366.20 L425.42,366.20Z" fill="#7f7f7f"/>
<path d="M486.79,460.00 L489.99,465.60 L483.59,465.60Z" fill="#7f7f7f"/>
<path d="M544.96,487.20 L548.16,492.80 L541.76,492.80Z" fill="#7f7f7f"/>
<path d="M603.13,485.00 L606.33,490.60 L599.93,490.60Z" fill="#7f7f7f"/>
<path d="M79.60,498.00 L82.60,501.00 L79.60,504.00 L76.60,501.00Z" fill="#000"/>
<path d="M137.77,492.00 L140.77,495.00 L137.77,498.00 L134.77,495.00Z" fill="#000"/>
<path d="M195.94,424.20 L198.94,427.20 L195.94,430.20 L192.94,427.20Z" fill="#000"/>
<path d="M254.11,324.30 L257.11,327.30 L254.11,330.30 L251.11,327.30Z" fill="#000"/>
<path d="M312.28,349.00 L315.28,352.00 L312.28,355.00 L309.28,352.00Z" fill="#000"/>
<path d="M370.45,401.20 L373.45,404.20 L370.45,407.20 L367.45,404.20Z" fill="#000"/>
<path d="M428.62,444.10 L431.62,447.10 L428.62,450.10 L425.62,447.10Z" fill="#000"/>
<path d="M486.79,497.50 L489.79,500.50 L486.79,503.50 L483.79,500.50Z" fill="#000"/>
<path d="M544.96,497.00 L547.96,500.00 L544.96,503.00 L541.96,500.00Z" fill="#000"/>
<path d="M603.13,497.50 L606.13,500.50 L603.13,503.50 L600.13,500.50Z" fill="#000"/>
<rect x="76.60" y="498.00" width="6.00" height="6.00" fill="#ee1111" />
<rect x="134.77" y="498.30" width="6.00" height="6.00" fill="#ee1111" />
<rect x="192.94" y="472.00" width="6.00" height="6.00" fill="#ee1111" />
<rect x="251.11" y="396.50" width="6.00" height="6.00" fill="#ee1111" />
<rect x="309.28" y="349.80" width="6.00" height="6.00" fill="#ee1111" />
<rect x="367.45" y="377.70" width="6.00" height="6.00" fill="#ee1111" />
<rect x="425.62" y="401.00" width="6.00" height="6.00" fill="#ee1111" />
<rect x="483.79" y="491.10" width="6.00" height="6.00" fill="#ee1111" />
<rect x="541.96" y="491.60" width="6.00" height="6.00" fill="#ee1111" />
<rect x="600.13" y="495.40" width="6.00" height="6.00" fill="#ee1111" />
<text x="259.75" y="321.90" font-size="15" text-anchor="middle" font-weight="bold" fill="#111" >*</text>
<text x="435.80" y="450.80" font-size="15" text-anchor="middle" font-weight="bold" fill="#111" >*</text>
<text x="436.40" y="404.50" font-size="10.5" text-anchor="middle" font-weight="bold" fill="#111" >^</text>
<line x1="96.10" y1="289.60" x2="112.30" y2="289.60" stroke="#7f7f7f" stroke-width="3" />
<path d="M103.50,286.40 L106.70,292.00 L100.30,292.00Z" fill="#7f7f7f"/>
<line x1="96.10" y1="313.30" x2="112.30" y2="313.30" stroke="#000" stroke-width="3" />
<path d="M103.50,310.30 L106.50,313.30 L103.50,316.30 L100.50,313.30Z" fill="#000"/>
<line x1="96.10" y1="333.50" x2="112.30" y2="333.50" stroke="#ee1111" stroke-width="3" />
<rect x="100.50" y="330.50" width="6.00" height="6.00" fill="#ee1111" />
<text x="119.80" y="289.60" font-size="10.4" text-anchor="start" font-weight="bold" fill="#111" >Rest</text>
<text x="118.40" y="298.10" font-size="8.1" text-anchor="start" font-weight="bold" fill="#111" textLength="24.49" lengthAdjust="spacingAndGlyphs" >veh-inj</text>
<text x="119.10" y="312.90" font-size="10.4" text-anchor="start" font-weight="bold" fill="#111" >Unload</text>
<text x="123.20" y="321.00" font-size="8.1" text-anchor="start" font-weight="bold" fill="#111" textLength="24.49" lengthAdjust="spacingAndGlyphs" >veh-inj</text>
<text x="119.10" y="335.70" font-size="10.4" text-anchor="start" font-weight="bold" fill="#111" >Unload</text>
<text x="121.80" y="343.80" font-size="8.1" text-anchor="start" font-weight="bold" fill="#111" textLength="29.56" lengthAdjust="spacingAndGlyphs" >Irisin-inj</text>
</svg>
</body></html>
